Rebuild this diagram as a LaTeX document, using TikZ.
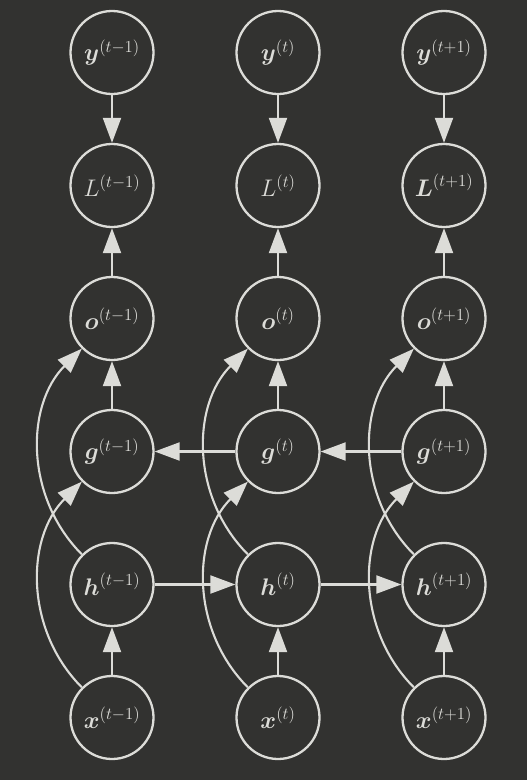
\RequirePackage{fix-cm}
\documentclass[tikz,border=0pt]{standalone}
\usepackage{amsmath}
\usetikzlibrary{arrows.meta}
\definecolor{bg}{HTML}{323230}
\definecolor{fg}{HTML}{DCDCD8}
\begin{document}
\begin{tikzpicture}[x=1pt,y=1pt,
  unit/.style={circle, draw=fg, line width=2.3pt, minimum size=83pt, inner sep=0pt, text=fg, font=\fontsize{24}{29}\selectfont},
  conn/.style={draw=fg, line width=2.1pt, -{Triangle[width=18pt,length=25pt]}}]
\fill[bg] (0,0) rectangle (527,-780);
\useasboundingbox (0,0) rectangle (527,-780);
% column 1
\node[unit] (y1) at (112,-52.5) {$\boldsymbol{y}^{(t-1)}$};
\node[unit] (L1) at (112,-185.5) {$L^{(t-1)}$};
\node[unit] (o1) at (112,-318.5) {$\boldsymbol{o}^{(t-1)}$};
\node[unit] (g1) at (112,-451.5) {$\boldsymbol{g}^{(t-1)}$};
\node[unit] (h1) at (112,-584.5) {$\boldsymbol{h}^{(t-1)}$};
\node[unit] (x1) at (112,-717.5) {$\boldsymbol{x}^{(t-1)}$};
% column 2
\node[unit] (y2) at (278,-52.5) {$\boldsymbol{y}^{(t)}$};
\node[unit] (L2) at (278,-185.5) {$L^{(t)}$};
\node[unit] (o2) at (278,-318.5) {$\boldsymbol{o}^{(t)}$};
\node[unit] (g2) at (278,-451.5) {$\boldsymbol{g}^{(t)}$};
\node[unit] (h2) at (278,-584.5) {$\boldsymbol{h}^{(t)}$};
\node[unit] (x2) at (278,-717.5) {$\boldsymbol{x}^{(t)}$};
% column 3
\node[unit] (y3) at (444,-52.5) {$\boldsymbol{y}^{(t+1)}$};
\node[unit] (L3) at (444,-185.5) {$\boldsymbol{L}^{(t+1)}$};
\node[unit] (o3) at (444,-318.5) {$\boldsymbol{o}^{(t+1)}$};
\node[unit] (g3) at (444,-451.5) {$\boldsymbol{g}^{(t+1)}$};
\node[unit] (h3) at (444,-584.5) {$\boldsymbol{h}^{(t+1)}$};
\node[unit] (x3) at (444,-717.5) {$\boldsymbol{x}^{(t+1)}$};
% vertical connections
\foreach \i in {1,2,3} {
  \draw[conn] (y\i) -- (L\i);
  \draw[conn] (o\i) -- (L\i);
  \draw[conn] (g\i) -- (o\i);
  \draw[conn] (x\i) -- (h\i);
  \draw[conn] (x\i) to[out=135,in=225] (g\i);
  \draw[conn] (h\i) to[out=135,in=225] (o\i);
}
% horizontal connections
\draw[conn] (h1) -- (h2);
\draw[conn] (h2) -- (h3);
\draw[conn] (g2) -- (g1);
\draw[conn] (g3) -- (g2);
\end{tikzpicture}
\end{document}
